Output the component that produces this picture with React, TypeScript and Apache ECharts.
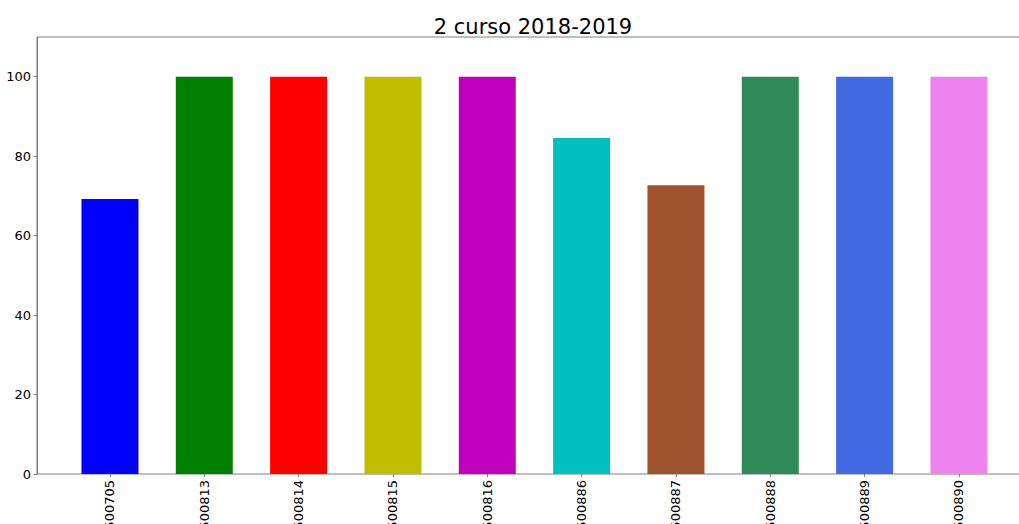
import React, { useEffect, useRef } from "react";
import * as echarts from "echarts";

const categories = ["500705", "500813", "500814", "500815", "500816", "500886", "500887", "500888", "500889", "500890"];
const values = [69.2, 100, 100, 100, 100, 84.6, 72.7, 100, 100, 100];
const barColors = ["#0000ff", "#008000", "#ff0000", "#bfbf00", "#bf00bf", "#00bfbf", "#a0522d", "#2e8b57", "#4169e1", "#ee82ee"];
const yTicks = [0, 20, 40, 60, 80, 100];
const titleText = "2 curso 2018-2019";

const FONT = "DejaVu Sans";
const SPINE = "#7f7f7f";

export default function App() {
  const ref = useRef<HTMLDivElement>(null);
  useEffect(() => {
    if (!ref.current) return;
    const chart = echarts.init(ref.current, null, { renderer: "svg" });
    chart.setOption({
      animation: false,
      backgroundColor: "#ffffff",
      title: {
        text: titleText,
        left: 528,
        top: 11,
        textAlign: "center",
        textStyle: { fontFamily: FONT, fontSize: 21, fontWeight: "normal", color: "#000" },
      },
      grid: [
        { left: 37, top: 37, width: 995, height: 437, show: true, borderColor: SPINE, borderWidth: 1, backgroundColor: "transparent", outerBoundsMode: "none", containLabel: false },
        { left: 62.8, top: 37, width: 943.3, height: 437, outerBoundsMode: "none", containLabel: false },
      ],
      xAxis: [
        { type: "value", gridIndex: 0, min: 0, max: 1, show: false },
        {
          type: "category",
          gridIndex: 1,
          data: categories,
          axisLine: { show: false },
          axisTick: { show: true, alignWithLabel: true, length: 3, lineStyle: { color: SPINE } },
          axisLabel: { rotate: 90, fontFamily: FONT, fontSize: 13, color: "#000", margin: 6, interval: 0 },
        },
      ],
      yAxis: [
        {
          type: "value",
          gridIndex: 0,
          min: 0,
          max: 110,
          axisLine: { show: true, lineStyle: { color: SPINE } },
          axisTick: { show: true, length: 3, lineStyle: { color: SPINE }, customValues: yTicks },
          axisLabel: { fontFamily: FONT, fontSize: 13, color: "#000", margin: 6, customValues: yTicks },
          splitLine: { show: false },
        },
        { type: "value", gridIndex: 1, min: 0, max: 110, show: false },
      ],
      series: [
        {
          type: "bar",
          xAxisIndex: 1,
          yAxisIndex: 1,
          barWidth: 57,
          data: values.map((v, i) => ({ value: v, itemStyle: { color: barColors[i] } })),
        },
      ],
    });
    return () => chart.dispose();
  }, []);
  return <div ref={ref} style={{ position: "fixed", left: 0, top: 0, width: 1019, height: 524 }} />;
}
